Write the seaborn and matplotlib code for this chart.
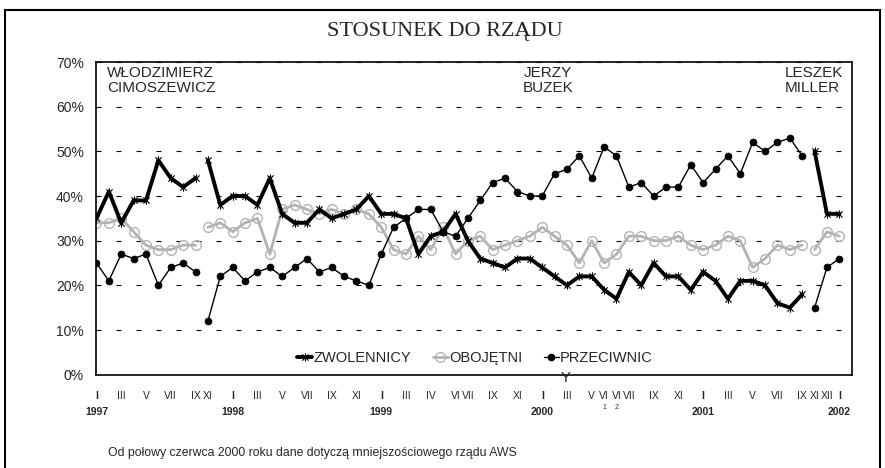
import matplotlib
matplotlib.use("Agg")
import matplotlib.pyplot as plt
import matplotlib.patches as mpatches
from matplotlib.lines import Line2D
from matplotlib.path import Path
import seaborn as sns
import pandas as pd

sns.set_theme(style="white")
plt.rcParams['font.family'] = ['Liberation Sans', 'DejaVu Sans']

# etykiety miesięcy dla kolejnych badań (62 kategorie, ostatnia pusta)
month_labels = ["I", "", "III", "", "V", "", "VII", "", "IX", "XI", "",
                "I", "", "III", "", "V", "", "VII", "", "IX", "", "XI", "",
                "I", "", "III", "", "IV", "", "VI", "VII", "", "IX", "", "XI", "",
                "I", "", "III", "", "V", "VI", "VI", "VII", "", "IX", "", "XI", "",
                "I", "", "III", "", "V", "", "VII", "", "IX", "XI", "XII", "I", ""]
year_pos = [0, 11, 23, 36, 49, 60]
year_text = ["1997", "1998", "1999", "2000", "2001", "2002"]
sub_pos = [41, 42]
sub_text = ["1", "2"]

zwolennicy = [35, 41, 34, 39, 39, 48, 44, 42, 44,
              48, 38, 40, 40, 38, 44, 36, 34, 34, 37, 35, 36, 37, 40,
              36, 36, 35, 27, 31, 32, 36, 30, 26, 25, 24, 26, 26,
              24, 22, 20, 22, 22, 19, 17, 23, 20, 25, 22, 22, 19,
              23, 21, 17, 21, 21, 20, 16, 15, 18,
              50, 36, 36]
obojetni = [34, 34, 35, 32, 29, 28, 28, 29, 29,
            33, 34, 32, 34, 35, 27, 37, 38, 37, 36, 37, 36, 37, 36,
            33, 28, 27, 31, 28, 33, 27, 30, 31, 28, 29, 30, 31,
            33, 31, 29, 25, 30, 25, 27, 31, 31, 30, 30, 31, 29,
            28, 29, 31, 30, 24, 26, 29, 28, 29,
            28, 32, 31]
przeciwnicy = [25, 21, 27, 26, 27, 20, 24, 25, 23,
               12, 22, 24, 21, 23, 24, 22, 24, 26, 23, 24, 22, 21, 20,
               27, 33, 35, 37, 37, 32, 31, 35, 39, 43, 44, 41, 40,
               40, 45, 46, 49, 44, 51, 49, 42, 43, 40, 42, 42, 47,
               43, 46, 49, 45, 52, 50, 52, 53, 49,
               15, 24, 26]
rzad = ["Cimoszewicz"] * 9 + ["Buzek"] * 49 + ["Miller"] * 3

df = pd.DataFrame({"pos": range(len(zwolennicy)), "rzad": rzad,
                   "ZWOLENNICY": zwolennicy, "OBOJĘTNI": obojetni,
                   "PRZECIWNICY": przeciwnicy})

# gwiazdka jak w Excelu: pion + dwie przekątne
star = Path([(0, -1), (0, 1), (-0.75, -0.75), (0.75, 0.75), (-0.75, 0.75), (0.75, -0.75)],
            [Path.MOVETO, Path.LINETO] * 3)
grey = "#b3b3b3"
styles = {
    "OBOJĘTNI": dict(color=grey, linewidth=2.0, marker="o", markersize=7,
                     markerfacecolor="none", markeredgecolor=grey, markeredgewidth=1.0),
    "PRZECIWNICY": dict(color="black", linewidth=1.0, marker="o", markersize=5,
                        markerfacecolor="black", markeredgecolor="black", markeredgewidth=0.5),
    "ZWOLENNICY": dict(color="black", linewidth=2.8, marker=star, markersize=6,
                       markerfacecolor="none", markeredgecolor="black", markeredgewidth=0.8),
}

fig = plt.figure(figsize=(8.85, 4.68), dpi=100)
ax = fig.add_axes([0.109, 0.1994, 0.8534, 0.6681])

for name in ["OBOJĘTNI", "PRZECIWNICY", "ZWOLENNICY"]:
    sns.lineplot(data=df, x="pos", y=name, units="rzad", estimator=None,
                 ax=ax, legend=False, **styles[name])

ax.set_xlim(0, len(month_labels) - 1)
ax.set_ylim(0, 70)
ax.set_xlabel("")
ax.set_ylabel("")
ax.set_yticks(range(0, 71, 10))
ax.set_yticklabels([f"{v}%" for v in range(0, 71, 10)], fontsize=10)
ax.set_xticks(range(len(month_labels)))
ax.set_xticklabels(month_labels, fontsize=7.5)
for i, lab in enumerate(ax.get_xticklabels()):
    if month_labels[i] == "I":
        lab.set_fontweight("bold")
ax.tick_params(axis="x", length=7, width=1, direction="out", pad=5, color="black")
ax.tick_params(axis="y", length=6, width=1, direction="out", pad=3, color="black")
ax.yaxis.grid(True, linestyle=(0, (4.5, 13.5)), color="black", linewidth=0.8)
ax.xaxis.grid(False)
for side in ["left", "bottom", "top", "right"]:
    ax.spines[side].set_visible(True)
    ax.spines[side].set_color("black")
    ax.spines[side].set_linewidth(1.2)

xt = ax.get_xaxis_transform()
for p, t in zip(year_pos, year_text):
    ax.text(p, -0.119, t, transform=xt, ha="center", va="center",
            fontsize=7.5, fontweight="bold")
for p, t in zip(sub_pos, sub_text):
    ax.text(p, -0.105, t, transform=xt, ha="center", va="center", fontsize=5)

ax.text(0.85, 69, "WŁODZIMIERZ\nCIMOSZEWICZ", ha="left", va="top", fontsize=11,
        linespacing=1.05)
ax.text(36.45, 69, "JERZY\nBUZEK", ha="center", va="top", fontsize=11,
        linespacing=1.05, multialignment="center")
ax.text(60.3, 69, "LESZEK\nMILLER", ha="right", va="top", fontsize=11,
        linespacing=1.05, multialignment="left",
        bbox=dict(facecolor="white", edgecolor="none", pad=1))

handles = [Line2D([], [], **styles[n]) for n in ["ZWOLENNICY", "OBOJĘTNI", "PRZECIWNICY"]]
leg = fig.legend(handles, ["ZWOLENNICY", "OBOJĘTNI", "PRZECIWNIC"], ncol=3,
                 loc="center", bbox_to_anchor=(0.537, 0.235), frameon=False,
                 fontsize=10.5, handlelength=1.0, handletextpad=0.1,
                 columnspacing=1.5)

fig.text(0.503, 0.932, "STOSUNEK DO RZĄDU", family="Liberation Serif",
         fontsize=16, ha="center", va="center")
fig.text(108 / 885, 1 - 453 / 468,
         "Od połowy czerwca 2000 roku dane dotyczą mniejszościowego rządu AWS",
         fontsize=8.8, ha="left", va="center")
fig.add_artist(mpatches.Rectangle((5 / 885, -0.01), 875 / 885, 1.01 - 10 / 468,
                                  transform=fig.transFigure, fill=False,
                                  edgecolor="black", linewidth=1.5))

# zawinięta końcówka etykiety legendy, jak w oryginale
fig.canvas.draw()
bb = leg.get_texts()[2].get_window_extent().transformed(fig.transFigure.inverted())
fig.text(bb.x0, bb.y0 - 0.028, "Y", fontsize=10.5, ha="left", va="center")

fig.savefig("out.png", dpi=100)
